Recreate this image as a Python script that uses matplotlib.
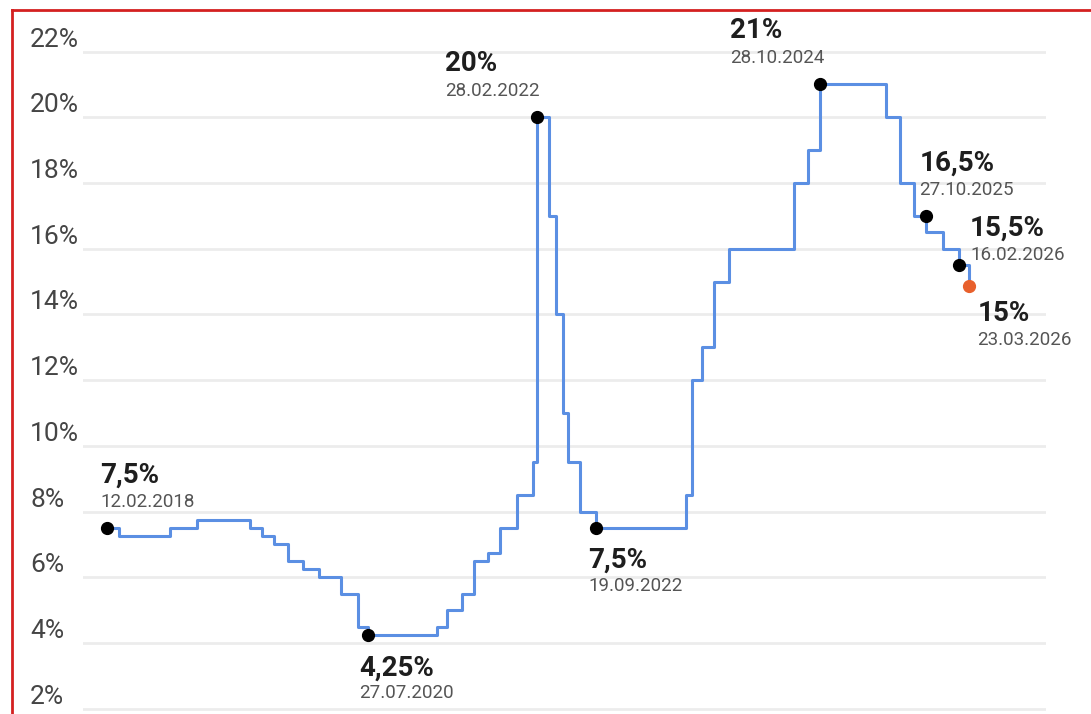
import matplotlib
matplotlib.use("Agg")
import matplotlib.pyplot as plt
import matplotlib.dates as mdates
import pandas as pd
from matplotlib.lines import Line2D

# ключевая ставка: дата решения -> ставка, %
dates = ["2018-02-12", "2018-03-26", "2018-09-17", "2018-12-17", "2019-06-17",
         "2019-07-29", "2019-09-09", "2019-10-28", "2019-12-16", "2020-02-10",
         "2020-04-27", "2020-06-22", "2020-07-27", "2021-03-22", "2021-04-26",
         "2021-06-15", "2021-07-26", "2021-09-13", "2021-10-25", "2021-12-20",
         "2022-02-14", "2022-02-28", "2022-04-11", "2022-05-04", "2022-05-27",
         "2022-06-14", "2022-07-25", "2022-09-19", "2023-07-24", "2023-08-15",
         "2023-09-18", "2023-10-30", "2023-12-18", "2024-07-29", "2024-09-16",
         "2024-10-28", "2025-06-09", "2025-07-28", "2025-09-15", "2025-10-27",
         "2025-12-22", "2026-02-16", "2026-03-23"]
rates = [7.5, 7.25, 7.5, 7.75, 7.5, 7.25, 7.0, 6.5, 6.25, 6.0,
         5.5, 4.5, 4.25, 4.5, 5.0, 5.5, 6.5, 6.75, 7.5, 8.5,
         9.5, 20.0, 17.0, 14.0, 11.0, 9.5, 8.0, 7.5, 8.5, 12.0,
         13.0, 15.0, 16.0, 18.0, 19.0, 21.0, 20.0, 18.0, 17.0, 16.5,
         16.0, 15.5, 15.0]

# подписанные точки (точка 16,5% на картинке стоит на уровне ступеньки 17)
mark_dates = ["2018-02-12", "2020-07-27", "2022-02-28", "2022-09-19",
              "2024-10-28", "2025-10-27", "2026-02-16", "2026-03-23"]
mark_values = [7.5, 4.25, 20.0, 7.5, 21.0, 17.0, 15.5, 14.85]
mark_labels = ["7,5%", "4,25%", "20%", "7,5%", "21%", "16,5%", "15,5%", "15%"]
mark_dates_text = ["12.02.2018", "27.07.2020", "28.02.2022", "19.09.2022",
                   "28.10.2024", "27.10.2025", "16.02.2026", "23.03.2026"]
# смещения подписей в пикселях (значение, дата)
offsets = [(-7, 53, -7, 26), (-9, -33, -9, -58), (-92, 54, -92, 26), (-8, -32, -8, -58),
           (-90, 54, -90, 26), (-7, 53, -7, 26), (11, 37, 11, 10), (8, -27, 8, -54)]
mark_colors = ["black"] * 7 + ["#e8602c"]

yticks = [2, 4, 6, 8, 10, 12, 14, 16, 18, 20, 22]

d = pd.to_datetime(dates)
md = pd.to_datetime(mark_dates)

W, H = 1091, 714
fig = plt.figure(figsize=(W / 100, H / 100), dpi=100)
fig.patch.set_facecolor("white")

# оси в пикселях: сетка от x=83 до 1046
ax_l, ax_r = 83, 1046
ax = fig.add_axes([ax_l / W, 0, (ax_r - ax_l) / W, 1])
ax.set_facecolor("none")

# масштаб: 22% -> y=51.5, 32.86 px на 1%
ppu = 32.86
top = 51.5
ax.set_ylim(22 - (H - top) / ppu, 22 + top / ppu)
x0 = mdates.date2num(pd.Timestamp("2018-02-12"))
ppd = 0.2912
ax.set_xlim(x0 - (107 - ax_l) / ppd, x0 + (ax_r - 107) / ppd)

for v in yticks:
    ax.axhline(v, color="#ececec", lw=2, zorder=0)
    ax.annotate(f"{v}%", xy=(0, v), xycoords=("axes fraction", "data"),
                xytext=(30 - ax_l, 5), textcoords="offset pixels",
                ha="left", va="baseline", fontsize=19, color="#454545",
                family="Roboto", annotation_clip=False)

ax.step(mdates.date2num(d), rates, where="post", color="#5b8fe3", lw=2.2, zorder=2)

for i in range(len(mark_dates)):
    x = mdates.date2num(md[i])
    ax.plot(x, mark_values[i], "o", color=mark_colors[i], ms=8.5, zorder=3)
    dx1, dy1, dx2, dy2 = offsets[i]
    ax.annotate(mark_labels[i], xy=(x, mark_values[i]), xytext=(dx1, dy1),
                textcoords="offset pixels", ha="left", va="center",
                fontsize=20, fontweight="bold", color="#1e1e1e", family="Roboto",
                annotation_clip=False)
    ax.annotate(mark_dates_text[i], xy=(x, mark_values[i]), xytext=(dx2, dy2),
                textcoords="offset pixels", ha="left", va="center",
                fontsize=13.5, color="#555555", family="Roboto",
                annotation_clip=False)

for s in ax.spines.values():
    s.set_visible(False)
ax.set_xticks([])
ax.set_yticks([])

# красная рамка скриншота
fig.add_artist(Line2D([12 / W, 1], [1 - 10 / H, 1 - 10 / H], color="#d42020", lw=2))
fig.add_artist(Line2D([12 / W, 12 / W], [0, 1 - 10 / H], color="#d42020", lw=2))

fig.savefig("out.png", dpi=100)
